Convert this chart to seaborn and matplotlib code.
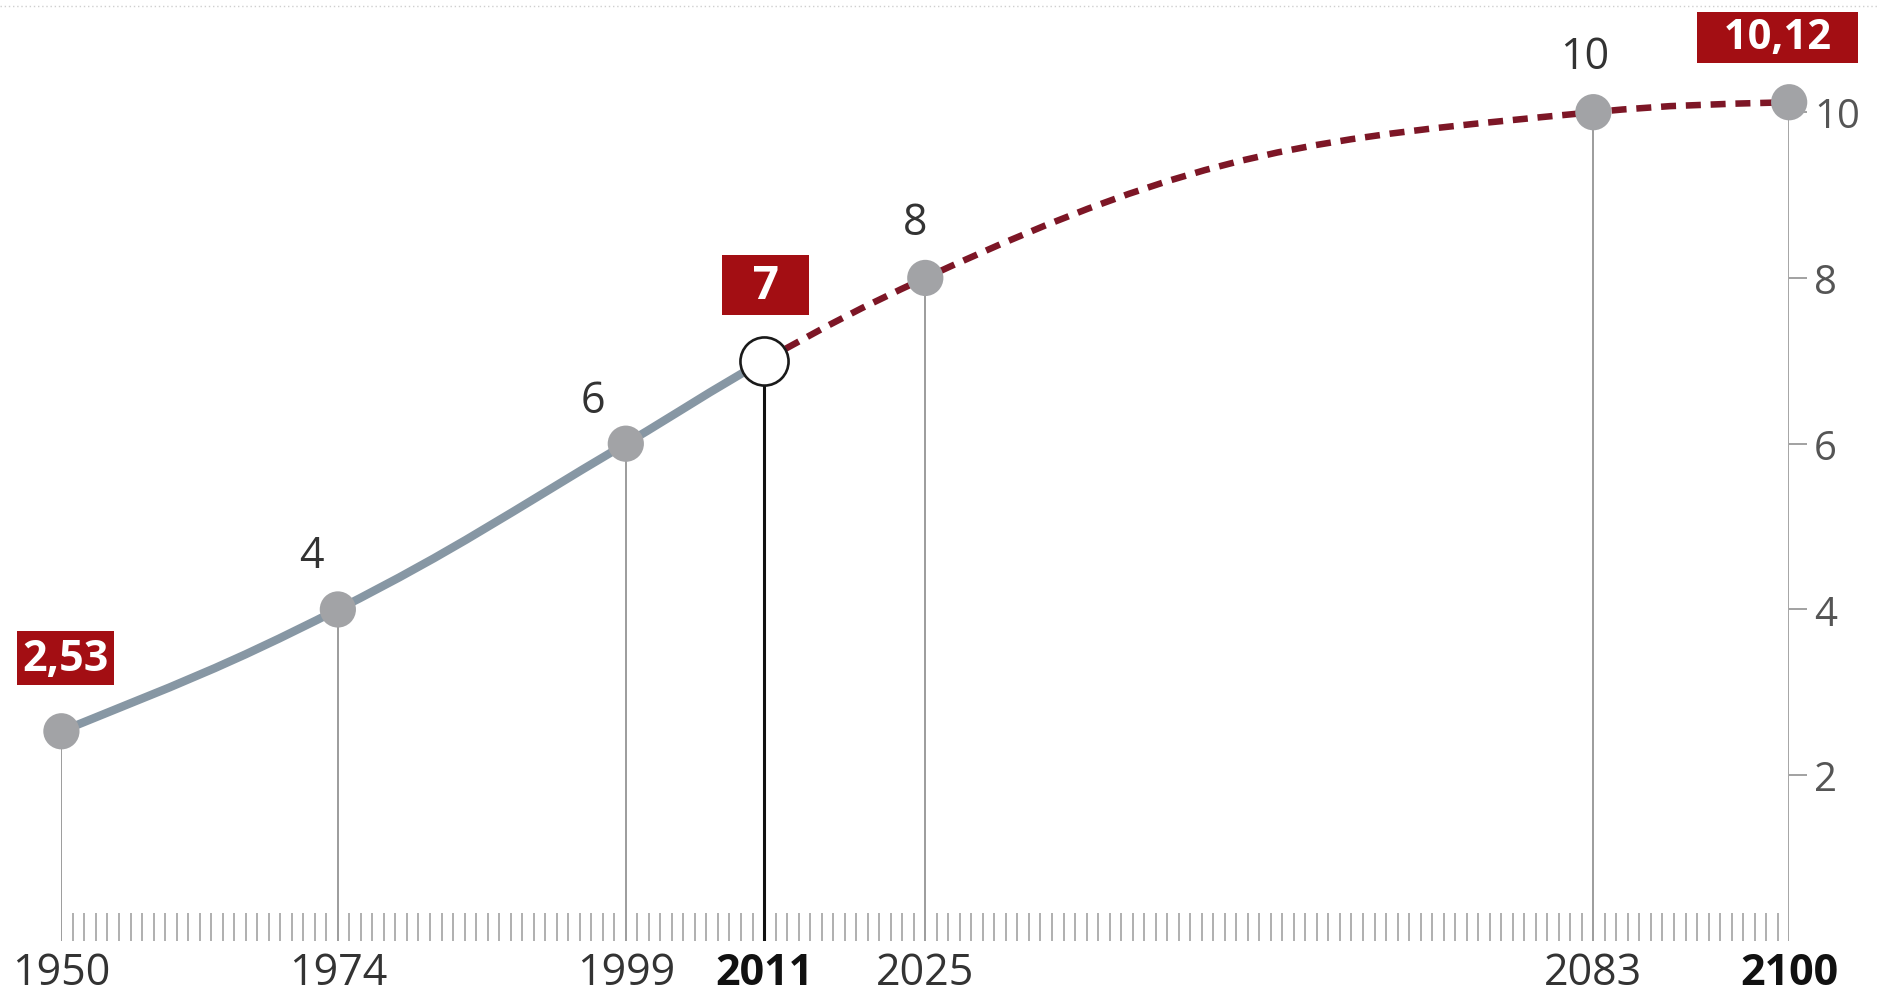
import numpy as np
import matplotlib
matplotlib.use("Agg")
import matplotlib.pyplot as plt
import seaborn as sns
from matplotlib.path import Path
from matplotlib.patches import PathPatch
from matplotlib.lines import Line2D

# ---------------- data ----------------
years = [1950, 1974, 1999, 2011, 2025, 2083, 2100]
population = [2.53, 4, 6, 7, 8, 10, 10.12]          # billions
projection_start = 2011
boxed_years = [1950, 2011, 2100]
bold_years = [2011, 2100]
y_ticks = [2, 4, 6, 8, 10]

# ---------------- style ----------------
sns.set_theme(style="white")
plt.rcParams["font.family"] = ["Open Sans", "DejaVu Sans"]

SOLID = "#8797a4"
DASH = "#7d1626"
BOX = "#a30e13"
DOT = "#a2a3a6"

fig = plt.figure(figsize=(18.78, 9.95), dpi=100)
ax = fig.add_axes([0.0327, 0.0533, 0.920, 0.8746])
ax.set_xlim(1950, 2100)
ax.set_ylim(0, 10.5)

x = np.array(years, float)
y = np.array(population, float)

# smooth curve (monotone cubic tangents, drawn as Bezier path in data coords)
h = np.diff(x)
s = np.diff(y) / h
m = np.zeros_like(y)
for i in range(1, len(x) - 1):
    p = (s[i - 1] * h[i] + s[i] * h[i - 1]) / (h[i - 1] + h[i])
    m[i] = (np.sign(s[i - 1]) + np.sign(s[i])) * min(abs(s[i - 1]), abs(s[i]), 0.5 * abs(p))
m[0] = (3 * s[0] - m[1]) / 2
m[-1] = (3 * s[-1] - m[-2]) / 2
k = 0.42


def curve(i0, i1):
    verts = [(x[i0], y[i0])]
    codes = [Path.MOVETO]
    for i in range(i0, i1):
        hh = x[i + 1] - x[i]
        verts += [(x[i] + k * hh, y[i] + k * hh * m[i]),
                  (x[i + 1] - k * hh, y[i + 1] - k * hh * m[i + 1]),
                  (x[i + 1], y[i + 1])]
        codes += [Path.CURVE4] * 3
    return Path(verts, codes)


split = years.index(projection_start)
ax.add_patch(PathPatch(curve(0, split), fill=False, edgecolor=SOLID, lw=6.0,
                       capstyle="round", zorder=3, clip_on=False))
ax.add_patch(PathPatch(curve(split, len(x) - 1), fill=False, edgecolor=DASH, lw=4.7,
                       linestyle=(0, (2.3, 1.5)), capstyle="butt", zorder=3, clip_on=False))

# vertical drop lines
vcolors = ["#111111" if yr == projection_start else ("#8a8a8a" if yr == years[-1] else "#9c9c9c")
           for yr in years]
vwidths = [2.2 if yr == projection_start else (1.8 if yr == years[-1] else 1.4) for yr in years]
ax.vlines(x, 0, y, colors=vcolors, linewidths=vwidths, zorder=2)

# points
mask_open = x == projection_start
sns.scatterplot(x=x[~mask_open], y=y[~mask_open], s=680, color=DOT, edgecolor="none",
                zorder=5, clip_on=False, ax=ax, legend=False)
sns.scatterplot(x=x[mask_open], y=y[mask_open], s=1200, color="white", edgecolor="#1a1a1a",
                linewidth=1.9, zorder=6, clip_on=False, ax=ax, legend=False)


def fmt(v):
    return f"{v:g}".replace(".", ",")


# plain value labels
plain_offsets = {1974: (-19, 39), 1999: (-24, 31), 2025: (-7, 40), 2083: (-6, 40)}
for yr, v in zip(years, population):
    if yr in boxed_years:
        continue
    dx, dy = plain_offsets.get(yr, (0, 38))
    ax.annotate(fmt(v), (yr, v), xytext=(dx, dy), textcoords="offset points",
                ha="center", va="center", fontsize=31, color="#333333", zorder=7,
                annotation_clip=False)

# boxed value labels
box_style = {1950: ((3, 52.5), 31, "{}", 0.13),
             2011: ((1, 54.5), 33, "  {}  ", 0.14),
             2100: ((-8.6, 46.8), 30, "  {}  ", 0.12)}
for yr, v in zip(years, population):
    if yr not in boxed_years:
        continue
    (dx, dy), fs, tpl, pad = box_style[yr]
    ax.annotate(tpl.format(fmt(v)), (yr, v), xytext=(dx, dy), textcoords="offset points",
                ha="center", va="center", fontsize=fs, fontweight="bold", color="white",
                bbox=dict(boxstyle=f"square,pad={pad}", fc=BOX, ec="none"),
                zorder=8, annotation_clip=False)

# axes styling
for sp in ax.spines.values():
    sp.set_visible(False)

ax.yaxis.tick_right()
ax.set_yticks(y_ticks)
ax.set_yticklabels([str(t) for t in y_ticks])
ax.tick_params(axis="y", which="major", right=True, left=False, length=13, width=1.1,
               color="#888888", labelsize=29, labelcolor="#555555", pad=5, direction="out")

ax.set_xticks(years)
ax.set_xticklabels([str(yr) for yr in years])
ax.set_xticks(np.arange(years[0] + 1, years[-1]), minor=True)
ax.tick_params(axis="x", which="major", length=0, labelsize=31, labelcolor="#333333", pad=7)
ax.tick_params(axis="x", which="minor", bottom=True, direction="in", length=20, width=1.1,
               color="#9a9a9a")
for lbl, yr in zip(ax.get_xticklabels(), years):
    if yr in bold_years:
        lbl.set_fontweight("bold")
        lbl.set_color("#111111")

ax.grid(False)
ax.set_xlabel("")
ax.set_ylabel("")

# faint dotted rule along the top edge
fig.add_artist(Line2D([0, 1], [0.993, 0.993], transform=fig.transFigure,
                      ls=(0, (1, 2)), color="#cfcfcf", lw=1))

fig.savefig("out.png", dpi=100, facecolor="white")
